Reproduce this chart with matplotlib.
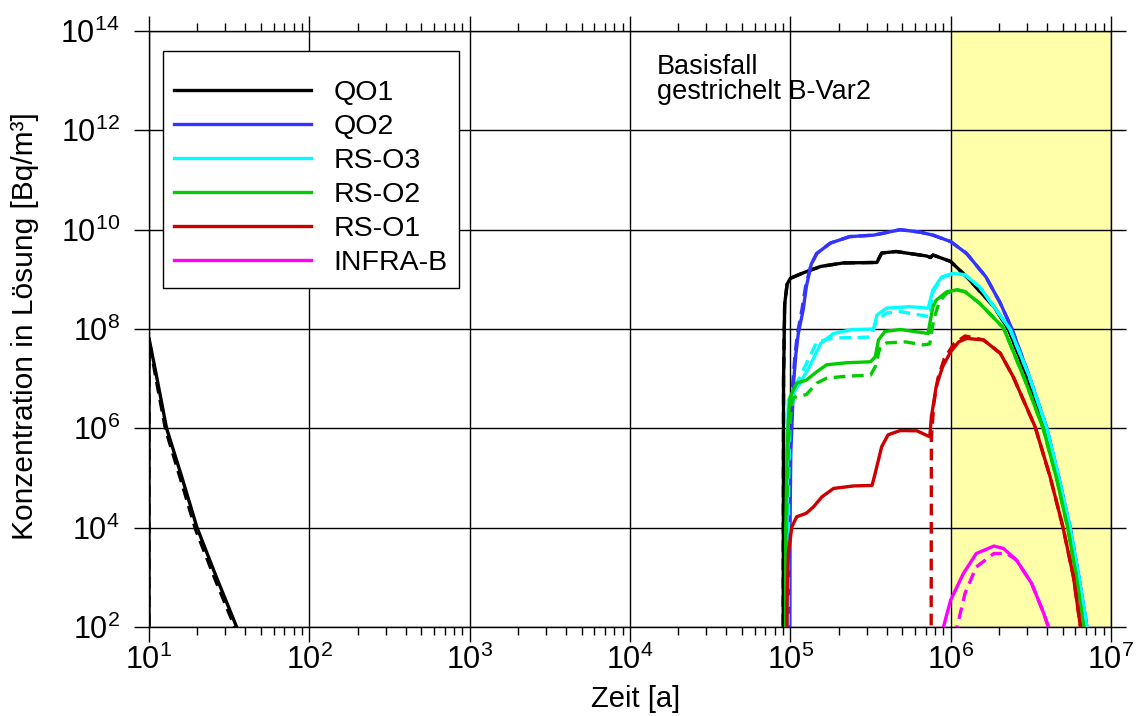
import numpy as np
import matplotlib
matplotlib.use("Agg")
import matplotlib.pyplot as plt
from matplotlib.ticker import FixedLocator, NullLocator, NullFormatter

plt.rcParams['font.family'] = ['Liberation Sans', 'DejaVu Sans']
plt.rcParams['mathtext.default'] = 'regular'

labels = ['QO1', 'QO2', 'RS-O3', 'RS-O2', 'RS-O1', 'INFRA-B']
colors = ['#000000', '#3434FF', '#00FFFF', '#00CC00', '#CC0000', '#FF00FF']

# QO1 - fruehe Freisetzung
qo1_early_t = [1.0, 1.0, 1.048, 1.11, 1.204, 1.30, 1.42, 1.547, 1.6]
qo1_early_c = [0.0, 7.82, 7.04, 6.0, 5.03, 4.0, 3.01, 2.0, 1.6]
qo1_early_t_var = [1.0, 1.0, 1.044, 1.104, 1.195, 1.29, 1.41, 1.535, 1.59]
qo1_early_c_var = [0.0, 7.80, 7.0, 5.97, 5.0, 3.97, 2.98, 2.0, 1.6]

# QO1 - spaet
qo1_t = [4.955, 4.958, 4.965, 4.98, 5.0, 5.08, 5.19, 5.33, 5.54, 5.57, 5.66,
         5.85, 5.875, 5.89, 6.0, 6.10, 6.27, 6.36, 6.47, 6.59, 6.665, 6.735, 6.79, 6.845, 6.86]
qo1_c = [0.0, 7.0, 8.5, 8.9, 9.02, 9.13, 9.26, 9.33, 9.34, 9.53, 9.56,
         9.47, 9.44, 9.49, 9.36, 9.05, 8.45, 8.0, 7.1, 6.0, 5.0, 4.0, 3.0, 2.0, 1.6]

# QO2
qo2_t = [4.995, 4.998, 5.003, 5.01, 5.02, 5.035, 5.05, 5.08, 5.10, 5.13, 5.165, 5.25,
         5.37, 5.52, 5.56, 5.685, 5.81, 5.89, 6.0, 6.10, 6.22, 6.31, 6.38, 6.49,
         6.60, 6.675, 6.745, 6.80, 6.85, 6.87]
qo2_c = [0.0, 4.0, 5.5, 6.03, 6.9, 7.5, 7.91, 8.38, 8.85, 9.3, 9.52, 9.73,
         9.86, 9.89, 9.915, 10.0, 9.95, 9.89, 9.76, 9.52, 9.05, 8.52, 8.02, 7.05,
         6.0, 5.0, 4.0, 3.0, 2.0, 1.6]
qo2_t_var = [4.99, 4.993, 4.998, 5.005, 5.015, 5.03, 5.045, 5.072, 5.095, 5.13, 5.165, 5.25,
             5.37, 5.52, 5.56, 5.685, 5.81, 5.89, 6.0, 6.10, 6.22, 6.31, 6.38, 6.49,
             6.60, 6.675, 6.745, 6.80, 6.85, 6.87]
qo2_c_var = qo2_c

# RS-O3
rso3_t = [4.974, 4.977, 4.982, 4.988, 5.06, 5.12, 5.19, 5.27, 5.39, 5.52, 5.54, 5.60,
          5.745, 5.86, 5.89, 5.945, 6.016, 6.09, 6.18, 6.27, 6.37, 6.49, 6.60,
          6.675, 6.745, 6.80, 6.85, 6.87]
rso3_c = [0.0, 4.0, 5.5, 6.57, 6.91, 7.24, 7.71, 7.91, 7.99, 8.0, 8.28, 8.42,
          8.45, 8.42, 8.79, 9.05, 9.12, 9.09, 8.85, 8.45, 8.0, 7.05, 6.0,
          5.0, 4.0, 3.0, 2.0, 1.6]
rso3_t_var = [4.985, 4.99, 5.0, 5.04, 5.10, 5.165, 5.27, 5.435, 5.50, 5.54, 5.60, 5.685,
              5.85, 5.87, 5.89, 5.945, 6.016, 6.09, 6.18, 6.27, 6.37, 6.49, 6.60,
              6.675, 6.745, 6.80, 6.85, 6.87]
rso3_c_var = [0.0, 5.0, 6.3, 6.9, 7.3, 7.74, 7.82, 7.83, 7.84, 8.18, 8.32, 8.35,
              8.26, 8.25, 8.75, 9.03, 9.12, 9.09, 8.85, 8.45, 8.0, 7.05, 6.0,
              5.0, 4.0, 3.0, 2.0, 1.6]

# RS-O2
rso2_t = [4.968, 4.972, 4.98, 4.99, 5.0, 5.04, 5.10, 5.165, 5.227, 5.35, 5.50, 5.53,
          5.55, 5.59, 5.685, 5.86, 5.87, 5.89, 5.91, 5.975, 6.04, 6.09, 6.18, 6.33,
          6.46, 6.577, 6.66, 6.73, 6.785, 6.83, 6.85]
rso2_c = [0.0, 4.0, 5.6, 6.3, 6.64, 6.91, 6.97, 7.14, 7.28, 7.32, 7.34, 7.44,
          7.78, 7.95, 7.99, 7.91, 8.11, 8.45, 8.58, 8.75, 8.79, 8.75, 8.52, 8.02,
          7.0, 6.0, 5.0, 4.0, 3.0, 2.0, 1.6]
rso2_t_var = [4.97, 4.975, 4.99, 5.01, 5.02, 5.10, 5.165, 5.227, 5.35, 5.50, 5.53,
              5.56, 5.60, 5.72, 5.83, 5.87, 5.895, 5.93, 5.975, 6.04, 6.09, 6.18, 6.33,
              6.46, 6.577, 6.66, 6.73, 6.785, 6.83, 6.85]
rso2_c_var = [0.0, 4.0, 5.8, 6.5, 6.62, 6.68, 6.91, 7.01, 7.05, 7.07, 7.24,
              7.64, 7.72, 7.74, 7.68, 7.70, 8.2, 8.55, 8.72, 8.79, 8.75, 8.52, 8.02,
              7.0, 6.0, 5.0, 4.0, 3.0, 2.0, 1.6]

# RS-O1
rso1_t = [4.978, 4.98, 4.988, 5.01, 5.04, 5.10, 5.145, 5.197, 5.27, 5.395, 5.51, 5.53,
          5.57, 5.61, 5.685, 5.79, 5.87, 5.88, 5.91, 5.95, 6.0, 6.05, 6.10, 6.205,
          6.31, 6.39, 6.527, 6.62, 6.70, 6.766, 6.81, 6.83]
rso1_c = [0.0, 2.5, 3.48, 4.02, 4.22, 4.29, 4.42, 4.62, 4.79, 4.84, 4.85, 5.10,
          5.63, 5.87, 5.955, 5.95, 5.83, 6.23, 6.84, 7.24, 7.54, 7.74, 7.81, 7.78,
          7.51, 7.04, 6.03, 5.03, 4.02, 3.01, 2.0, 1.6]
rso1_t_var = [5.878, 5.88, 5.895, 5.92, 5.96, 6.02, 6.09, 6.205,
              6.31, 6.39, 6.527, 6.62, 6.70, 6.766, 6.81, 6.83]
rso1_c_var = [0.0, 5.8, 6.5, 7.0, 7.4, 7.7, 7.86, 7.78,
              7.51, 7.04, 6.03, 5.03, 4.02, 3.01, 2.0, 1.6]

# INFRA-B
infra_t = [5.945, 5.955, 6.0, 6.08, 6.16, 6.27, 6.33, 6.41, 6.505, 6.58, 6.61, 6.62]
infra_c = [1.8, 2.0, 2.54, 3.08, 3.48, 3.63, 3.58, 3.35, 2.88, 2.28, 2.0, 1.8]
infra_t_var = [6.035, 6.04, 6.09, 6.16, 6.27, 6.35, 6.41, 6.505, 6.58, 6.61, 6.62]
infra_c_var = [1.8, 2.0, 2.68, 3.21, 3.48, 3.48, 3.35, 2.88, 2.28, 2.0, 1.8]

x_ticks = [1e1, 1e2, 1e3, 1e4, 1e5, 1e6, 1e7]
y_ticks = [1e2, 1e4, 1e6, 1e8, 1e10, 1e12, 1e14]

solid_curves = [(qo1_t, qo1_c), (qo2_t, qo2_c), (rso3_t, rso3_c),
                (rso2_t, rso2_c), (rso1_t, rso1_c), (infra_t, infra_c)]
var_curves = [(qo1_t, qo1_c), (qo2_t_var, qo2_c_var), (rso3_t_var, rso3_c_var),
              (rso2_t_var, rso2_c_var), (rso1_t_var, rso1_c_var), (infra_t_var, infra_c_var)]

fig = plt.figure(figsize=(11.37, 7.16), dpi=100)
ax = fig.add_axes([0.1310, 0.1243, 0.8461, 0.8324])

ax.set_xscale('log')
ax.set_yscale('log')
ax.set_xlim(1e1, 1e7)
ax.set_ylim(1e2, 1e14)

# gelber Bereich
ax.axvspan(1e6, 1e7, color='#FFFFAA', zorder=0, lw=0)

lw = 2.4
# fruehe QO1-Kurve
ax.plot(10 ** np.array(qo1_early_t_var), 10 ** np.array(qo1_early_c_var),
        color='black', lw=lw, ls=(0, (3.5, 2)), zorder=3)
ax.plot(10 ** np.array(qo1_early_t), 10 ** np.array(qo1_early_c),
        color='black', lw=lw, zorder=3, solid_joinstyle='round')

for i in range(len(labels)):
    t, c = solid_curves[i]
    tv, cv = var_curves[i]
    ax.plot(10 ** np.array(t), 10 ** np.array(c), color=colors[i], lw=lw,
            label=labels[i], zorder=3 + i, solid_joinstyle='round')
    ax.plot(10 ** np.array(tv), 10 ** np.array(cv), color=colors[i], lw=lw,
            ls=(0, (3.5, 2)), zorder=3 + i)

ax.set_xticks(x_ticks)
ax.set_yticks(y_ticks)
ax.yaxis.set_minor_locator(NullLocator())
minor_x = [m * 10 ** e for e in range(1, 7) for m in range(2, 10)]
ax.xaxis.set_minor_locator(FixedLocator(minor_x))
ax.xaxis.set_minor_formatter(NullFormatter())

ax.grid(True, which='major', color='black', lw=1.0, zorder=1)
ax.set_axisbelow(False)
for s in ax.spines.values():
    s.set_linewidth(1.0)
    s.set_zorder(2)

ax.tick_params(which='major', direction='out', length=11, width=1.0,
               top=True, right=True, labelsize=22)
ax.tick_params(which='minor', direction='out', length=5.5, width=1.0,
               top=True, right=True)
ax.tick_params(axis='x', which='major', pad=2)
ax.tick_params(axis='y', which='major', pad=10)

ax.set_xlabel('Zeit [a]', fontsize=21)
ax.set_ylabel('Konzentration in Lösung [Bq/m³]', fontsize=21.5)
ax.xaxis.set_label_coords(0.506, -0.097)
ax.yaxis.set_label_coords(-0.114, 0.505)

leg = ax.legend(loc='upper left', bbox_to_anchor=(0.0146, 0.9664), borderaxespad=0,
                fontsize=20.5, handlelength=4.8, handletextpad=0.8, labelspacing=0.28,
                borderpad=0.4, frameon=True, fancybox=False, framealpha=1,
                edgecolor='black', title=' ', title_fontsize=8)
leg.get_frame().set_linewidth(1.0)
leg.set_zorder(20)

ax.text(0.528, 0.962, 'Basisfall\ngestrichelt B-Var2', transform=ax.transAxes,
        fontsize=19.5, va='top', ha='left', linespacing=0.95, zorder=20)

fig.savefig('out.png', dpi=100)
